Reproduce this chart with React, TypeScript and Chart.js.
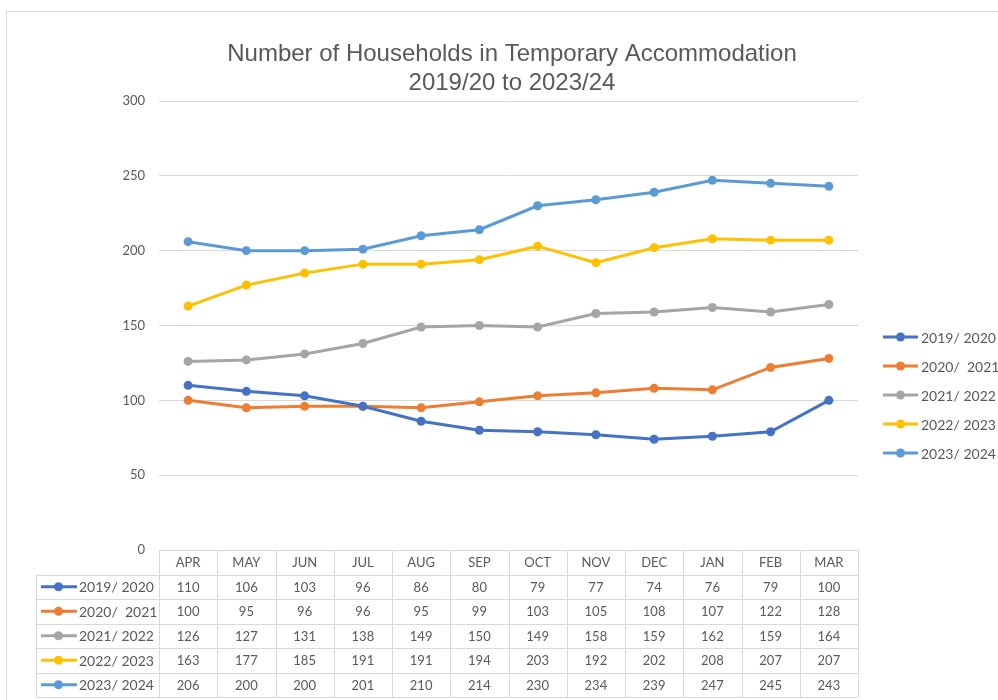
import React, { useEffect, useRef } from "react";
import { Chart, registerables } from "chart.js";

Chart.register(...registerables);

const titleLines = ["Number of Households in Temporary Accommodation", "2019/20 to 2023/24"];
const months = ["APR", "MAY", "JUN", "JUL", "AUG", "SEP", "OCT", "NOV", "DEC", "JAN", "FEB", "MAR"];
const seriesNames = ["2019/ 2020", "2020/  2021", "2021/ 2022", "2022/ 2023", "2023/ 2024"];
const seriesColors = ["#4472C4", "#ED7D31", "#A5A5A5", "#FFC000", "#5B9BD5"];
const s2019 = [110, 106, 103, 96, 86, 80, 79, 77, 74, 76, 79, 100];
const s2020 = [100, 95, 96, 96, 95, 99, 103, 105, 108, 107, 122, 128];
const s2021 = [126, 127, 131, 138, 149, 150, 149, 158, 159, 162, 159, 164];
const s2022 = [163, 177, 185, 191, 191, 194, 203, 192, 202, 208, 207, 207];
const s2023 = [206, 200, 200, 201, 210, 214, 230, 234, 239, 247, 245, 243];
const seriesValues = [s2019, s2020, s2021, s2022, s2023];
const yTicks = [0, 50, 100, 150, 200, 250, 300];

const TEXT = "#595959";
const LINE = "#d9d9d9";
const FONT = "Lato, 'Open Sans', sans-serif";

const decorPlugin = {
  id: "decor",
  afterDraw(chart: any) {
    const ctx = chart.ctx as CanvasRenderingContext2D;
    const area = chart.chartArea;
    const xs = chart.scales.x;
    ctx.save();
    // frame
    ctx.strokeStyle = LINE;
    ctx.lineWidth = 1;
    ctx.beginPath();
    ctx.moveTo(6.5, 700);
    ctx.lineTo(6.5, 11.5);
    ctx.lineTo(998, 11.5);
    ctx.stroke();

    // title
    ctx.fillStyle = TEXT;
    ctx.textAlign = "center";
    ctx.textBaseline = "middle";
    ctx.font = "24px 'Liberation Sans', Arial, sans-serif";
    ctx.fillText(titleLines[0], 512, 54);
    ctx.fillText(titleLines[1], 512, 83);

    // legend
    ctx.textAlign = "left";
    ctx.font = `14px ${FONT}`;
    seriesNames.forEach((name, i) => {
      const y = 337 + i * 29;
      ctx.strokeStyle = seriesColors[i];
      ctx.lineWidth = 3;
      ctx.beginPath();
      ctx.moveTo(883, y);
      ctx.lineTo(918, y);
      ctx.stroke();
      ctx.fillStyle = seriesColors[i];
      ctx.beginPath();
      ctx.arc(900.5, y, 4.5, 0, Math.PI * 2);
      ctx.fill();
      ctx.fillStyle = TEXT;
      ctx.fillText(name, 921, y + 1);
    });

    // data table
    const n = months.length;
    const colW = (area.right - area.left) / n;
    const top = area.bottom;
    const rowH = 24.5;
    const tableBottom = top + rowH * (seriesNames.length + 1);
    const labelLeft = 36.5;
    ctx.strokeStyle = LINE;
    ctx.lineWidth = 1;
    ctx.beginPath();
    for (let i = 0; i <= n; i++) {
      const x = Math.round(area.left + i * colW) + 0.5;
      ctx.moveTo(x, top);
      ctx.lineTo(x, tableBottom);
    }
    ctx.moveTo(labelLeft, top + rowH);
    ctx.lineTo(labelLeft, tableBottom);
    for (let r = 1; r <= seriesNames.length + 1; r++) {
      const y = Math.round(top + r * rowH) + 0.5;
      ctx.moveTo(labelLeft, y);
      ctx.lineTo(area.right, y);
    }
    ctx.stroke();

    ctx.font = `13px ${FONT}`;
    ctx.textAlign = "center";
    ctx.fillStyle = TEXT;
    months.forEach((m, i) => {
      ctx.fillText(m, xs.getPixelForValue(i), top + rowH / 2 + 1);
    });
    seriesValues.forEach((vals, r) => {
      const cy = top + (r + 1) * rowH + rowH / 2 + 1;
      ctx.textAlign = "center";
      ctx.fillStyle = TEXT;
      vals.forEach((v, i) => {
        ctx.fillText(String(v), xs.getPixelForValue(i), cy);
      });
      ctx.strokeStyle = seriesColors[r];
      ctx.lineWidth = 3;
      ctx.beginPath();
      ctx.moveTo(41, cy - 1);
      ctx.lineTo(77, cy - 1);
      ctx.stroke();
      ctx.fillStyle = seriesColors[r];
      ctx.beginPath();
      ctx.arc(58.5, cy - 1, 4.5, 0, Math.PI * 2);
      ctx.fill();
      ctx.fillStyle = TEXT;
      ctx.textAlign = "left";
      ctx.font = `14px ${FONT}`;
      ctx.fillText(seriesNames[r], 79, cy);
      ctx.font = `13px ${FONT}`;
    });
    ctx.restore();
  },
};

export default function App() {
  const ref = useRef<HTMLCanvasElement>(null);
  useEffect(() => {
    if (!ref.current) return;
    const chart = new Chart(ref.current, {
      type: "line",
      data: {
        labels: months,
        datasets: seriesNames.map((name, i) => ({
          label: name,
          data: seriesValues[i],
          borderColor: seriesColors[i],
          backgroundColor: seriesColors[i],
          borderWidth: 3,
          pointRadius: 4.5,
          pointBorderWidth: 0,
          pointBackgroundColor: seriesColors[i],
          tension: 0,
        })),
      },
      options: {
        responsive: false,
        animation: false,
        devicePixelRatio: 1,
        layout: { padding: { left: 99, right: 140, top: 101, bottom: 150 } },
        plugins: {
          legend: { display: false },
          title: { display: false },
          tooltip: { enabled: false },
        },
        scales: {
          x: {
            type: "category",
            display: false,
            offset: true,
          },
          y: {
            min: 0,
            max: 300,
            afterFit(scale: any) {
              scale.width = 60;
            },
            afterBuildTicks(scale: any) {
              scale.ticks = yTicks.map((v) => ({ value: v }));
            },
            border: { display: false },
            grid: { color: LINE, drawTicks: false, lineWidth: 1 },
            ticks: {
              color: TEXT,
              font: { family: FONT, size: 13 },
              padding: 14,
            },
          },
        },
      },
      plugins: [decorPlugin],
    });
    return () => chart.destroy();
  }, []);
  return (
    <div style={{ position: "absolute", left: 0, top: 0, width: 998, height: 700, background: "#fff" }}>
      <canvas ref={ref} width={998} height={700} style={{ display: "block" }} />
    </div>
  );
}
